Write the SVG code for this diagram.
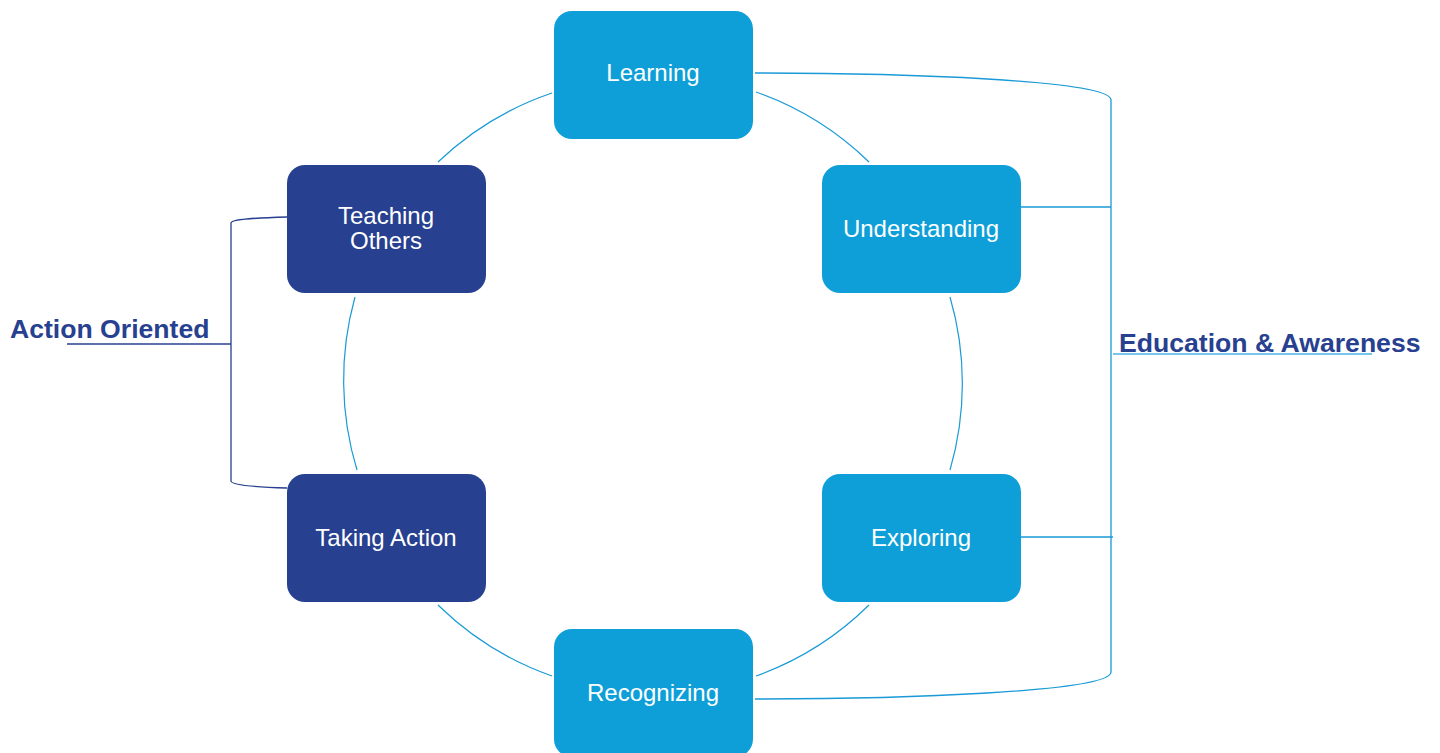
<svg xmlns="http://www.w3.org/2000/svg" width="1440" height="753" viewBox="0 0 1440 753">
<style>
.lb{fill:#0E9FD8}
.db{fill:#27408F}
.nt{fill:#FFFFFF;font-family:"Liberation Sans",Arial,sans-serif;font-size:24px;text-anchor:middle}
.arc{fill:none;stroke:#1A9AD6;stroke-width:1.2}
.rb{fill:none;stroke:#1A9AD6;stroke-width:1.3}
.lbk{fill:none;stroke:#27408F;stroke-width:1.3}
.lab{fill:#27408F;font-family:"Liberation Sans",Arial,sans-serif;font-size:26.6px;font-weight:bold}
</style>
<rect width="1440" height="753" fill="#FFFFFF"/>
<g id="connectors">
<path class="arc" d="M552,93 A309,309 0 0 0 438,162"/>
<path class="arc" d="M756,92 A309,309 0 0 1 869,162"/>
<path class="arc" d="M950,297 A309,309 0 0 1 950,470"/>
<path class="arc" d="M869,605 A309,309 0 0 1 756,676"/>
<path class="arc" d="M552,676 A309,309 0 0 1 438,605"/>
<path class="arc" d="M357,470 A309,309 0 0 1 355,297"/>
<path class="rb" d="M755,73 C900,73 1111,80 1111,100 L1111,672 C1111,692 900,699 755,699"/>
<line class="rb" x1="1021" y1="207" x2="1111" y2="207"/>
<line class="rb" x1="1021" y1="537" x2="1113" y2="537"/>
<line x1="1113" y1="354" x2="1372" y2="354" stroke="#4DB3E6" stroke-width="1.5"/>
<path class="lbk" d="M287,217 C255,218 231,219 231,223 L231,481 C231,485 255,487 287,488"/>
<line class="lbk" x1="231" y1="344" x2="67" y2="344"/>
</g>
<g id="learning"><rect class="lb" x="554" y="11" width="199" height="128" rx="18"/><text class="nt" x="653" y="81">Learning</text></g>
<g id="understanding"><rect class="lb" x="822" y="165" width="199" height="128" rx="18"/><text class="nt" x="921" y="237">Understanding</text></g>
<g id="exploring"><rect class="lb" x="822" y="474" width="199" height="128" rx="18"/><text class="nt" x="921" y="546">Exploring</text></g>
<g id="recognizing"><rect class="lb" x="554" y="629" width="199" height="128" rx="18"/><text class="nt" x="653" y="701">Recognizing</text></g>
<g id="taking-action"><rect class="db" x="287" y="474" width="199" height="128" rx="18"/><text class="nt" x="386" y="546">Taking Action</text></g>
<g id="teaching-others"><rect class="db" x="287" y="165" width="199" height="128" rx="18"/><text class="nt" x="386" y="224">Teaching</text><text class="nt" x="386" y="249">Others</text></g>
<g id="label-action"><text class="lab" x="10" y="338">Action Oriented</text></g>
<g id="label-education"><text class="lab" x="1119" y="352">Education &amp; Awareness</text></g>
</svg>
